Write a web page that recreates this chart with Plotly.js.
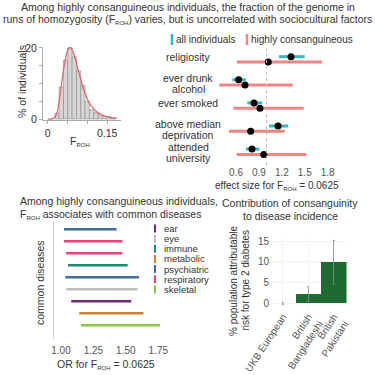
<!DOCTYPE html>
<html>
<head>
<meta charset="utf-8">
<script src="https://cdn.plot.ly/plotly-3.0.1.min.js"></script>
<style>html,body{margin:0;padding:0;background:#fff;}#chart{width:375px;height:375px;}</style>
</head>
<body>
<div id="chart"></div>
<script>
// ---------- DATA ----------
// histogram of F_ROH (bin centers, % of individuals)
const histF = [0.0234,0.0343,0.0452,0.0561,0.0670,0.0779,0.0888,0.0997,0.1106,0.1215,0.1324,0.1433,0.1542,0.1651];
const histPct = [1.6,9.0,16.6,20.0,17.5,13.5,9.5,5.0,2.6,1.8,1.2,0.8,0.7,0.3];
// fitted density curve
const curveF = [0.000,0.010,0.018,0.025,0.030,0.035,0.040,0.045,0.050,0.055,0.060,0.065,0.070,0.075,0.080,0.085,0.090,0.095,0.100,0.105,0.115,0.125,0.140,0.155,0.175];
const curvePct = [0.0,0.05,0.5,2.5,6.0,10.0,14.0,17.0,19.2,20.3,19.8,18.5,16.7,14.5,12.5,10.5,8.6,7.0,5.6,4.5,3.0,1.9,1.0,0.5,0.2];

// sociocultural factors forest plot
const traits = ['religiosity','ever drunk<br>alcohol','ever smoked','above median<br>deprivation','attended<br>university'];
const allEst = [1.32,0.635,0.836,1.15,0.809];
const allLo  = [1.163,0.552,0.748,1.032,0.731];
const allHi  = [1.499,0.727,0.944,1.285,0.905];
const hcEst  = [1.023,0.718,0.914,0.792,0.963];
const hcLo   = [0.61,0.381,0.565,0.508,0.609];
const hcHi   = [1.726,1.342,1.486,1.237,1.52];
const forestTicks = [0.6,0.9,1.2,1.5,1.8];

// common diseases
const diseaseGroup = ['psychiatric','respiratory','respiratory','immune','psychiatric','eye','ear','metabolic','skeletal'];
const diseaseLo = [1.023,1.023,1.039,1.054,1.033,1.041,1.079,1.141,1.154];
const diseaseHi = [1.429,1.474,1.473,1.514,1.601,1.591,1.542,1.635,1.763];
const groups = ['ear','eye','immune','metabolic','psychiatric','respiratory','skeletal'];
const diseaseTicks = [1.00,1.25,1.50,1.75];

// population attributable risk
const popCats = ['UKB European','British<br>Bangladeshi','British<br>Pakistani'];
const popPAR = [0.1,2.2,9.9];
const popHi = [0.3,4.0,15.2];
const popLo = [-0.2,0.4,4.6];

// ---------- STYLE ----------
const groupColor = {ear:'#6e2a6e',eye:'#bdbdbd',immune:'#1f8a72',metabolic:'#c98035',psychiatric:'#3d6fa6',respiratory:'#e6457c',skeletal:'#8fc641'};
const teal = '#35b6c4', coral = '#ef8585';
const FONT = 'Liberation Sans, Arial, sans-serif';
const txt = '#333', tick = '#555';
const W = 375;
const PX = p => p / W, PY = p => 1 - p / W;
const sub = '<sub><span style="font-size:6px">ROH</span></sub>';

const traces = [];
// histogram
traces.push({type:'bar', x:histF, y:histPct, width:0.0109, xaxis:'x', yaxis:'y',
  marker:{color:'#d6d6d6', line:{color:'#8a8a8a', width:0.6}}, showlegend:false, hoverinfo:'skip'});
traces.push({type:'scatter', mode:'lines', x:curveF, y:curvePct, xaxis:'x', yaxis:'y',
  line:{color:'#e0606c', width:1.2, shape:'spline'}, showlegend:false});

// forest plot
const rowIdx = traits.map((_, i) => i);
traces.push({type:'scatter', mode:'markers', x:hcEst, y:rowIdx.map(i => i + 0.23), xaxis:'x2', yaxis:'y2',
  marker:{color:'#000', size:7},
  error_x:{type:'data', symmetric:false, array:hcHi.map((h,i)=>h-hcEst[i]), arrayminus:hcLo.map((l,i)=>hcEst[i]-l), thickness:3, width:0, color:coral},
  showlegend:false});
traces.push({type:'scatter', mode:'markers', x:allEst, y:rowIdx, xaxis:'x2', yaxis:'y2',
  marker:{color:'#000', size:7},
  error_x:{type:'data', symmetric:false, array:allHi.map((h,i)=>h-allEst[i]), arrayminus:allLo.map((l,i)=>allEst[i]-l), thickness:3, width:0, color:teal},
  showlegend:false});

// disease lines
diseaseGroup.forEach((g, i) => {
  traces.push({type:'scatter', mode:'lines', x:[diseaseLo[i], diseaseHi[i]], y:[i, i], xaxis:'x3', yaxis:'y3',
    line:{color:groupColor[g], width:2.6}, showlegend:false});
});

// PAR bars
traces.push({type:'bar', x:popCats, y:popPAR, xaxis:'x4', yaxis:'y4',
  marker:{color:'#1d6b30'},
  error_y:{type:'data', symmetric:false, array:popHi.map((h,i)=>h-popPAR[i]), arrayminus:popPAR.map((v,i)=>v-popLo[i]), thickness:0.8, width:1, color:'#8a8a8a'},
  showlegend:false});

const annotations = [];
const shapes = [];
function ann(text, xp, yp, size, opts) {
  annotations.push(Object.assign({text, x:PX(xp), y:PY(yp), xref:'paper', yref:'paper', showarrow:false,
    xanchor:'center', yanchor:'middle', font:{family:FONT, size, color:txt}}, opts || {}));
}
// main title
ann('Among highly consanguineous individuals, the fraction of the genome in', 187.5, 7, 10.5);
ann('runs of homozygosity (F' + sub + ') varies, but is uncorrelated with sociocultural factors', 187.5, 19.5, 10.5);
// histogram titles
ann('% of individuals', 22, 82, 10.5, {textangle:-90});
ann('F' + sub, 80, 141, 10.5);
// forest legend
ann('all individuals', 174, 39.5, 10, {xanchor:'left'});
ann('highly consanguineous', 249, 39.5, 10, {xanchor:'left'});
shapes.push({type:'line', xref:'paper', yref:'paper', x0:PX(172), x1:PX(172), y0:PY(34), y1:PY(45), line:{color:teal, width:2.5}});
shapes.push({type:'line', xref:'paper', yref:'paper', x0:PX(247), x1:PX(247), y0:PY(34), y1:PY(45), line:{color:coral, width:2.5}});
// forest row labels (each line placed separately for tight spacing)
traits.forEach((t, i) => {
  const lines = t.split('<br>');
  const center = lines.length > 1 ? i + 0.15 : i + 0.01;
  lines.forEach((ln, k) => {
    const off = (k - (lines.length - 1) / 2) * 0.48;
    annotations.push({text:ln, x:PX(188), xref:'paper', y:center + off, yref:'y2', showarrow:false, xanchor:'center', yanchor:'middle',
      font:{family:FONT, size:10.5, color:txt}});
  });
});
// dotted reference line at 1
shapes.push({type:'line', xref:'x2', yref:'y2 domain', x0:1, x1:1, y0:0, y1:0.97, line:{color:'#bbb', width:1, dash:'dot'}});
ann('effect size for F' + sub + ' = 0.0625', 277, 186, 10);

// disease panel
ann('Among highly consanguineous individuals,', 18, 201, 10.5, {xanchor:'left'});
ann('F' + sub + ' associates with common diseases', 18, 214, 10.5, {xanchor:'left'});
ann('common diseases', 40, 283, 10.5, {textangle:-90});
ann('OR for F' + sub + ' = 0.0625', 106, 364, 10.5);
groups.forEach((g, i) => {
  const yp = 228.5 + i * 10.15;
  shapes.push({type:'line', xref:'paper', yref:'paper', x0:PX(155), x1:PX(155), y0:PY(yp - 4), y1:PY(yp + 4), line:{color:groupColor[g], width:2}});
  ann(g, 162, yp, 9.5, {xanchor:'left'});
});

// PAR panel
ann('Contribution of consanguinity', 290, 203, 10.5);
ann('to disease incidence', 290, 216, 10.5);
ann('% population attributable', 233, 280, 10, {textangle:-90});
ann('risk for type 2 diabetes', 244.5, 280, 10, {textangle:-90});

const layout = {
  width:375, height:375, margin:{l:0,r:0,t:0,b:0}, paper_bgcolor:'#fff', plot_bgcolor:'rgba(0,0,0,0)',
  font:{family:FONT, color:tick, size:10}, showlegend:false, bargap:0,
  xaxis:{domain:[PX(43),PX(121)], range:[-0.012,0.185], anchor:'y', showgrid:false, zeroline:false,
    showline:true, linecolor:'#aaa', linewidth:1, ticks:'outside', ticklen:3, tickcolor:'#aaa',
    tickvals:[0,0.05,0.1,0.15], ticktext:['0','','','0.15'], tickfont:{size:10.5, color:txt}},
  yaxis:{domain:[PY(120),PY(47)], range:[-0.28,20.28], anchor:'x', showgrid:false, zeroline:false,
    showline:true, linecolor:'#aaa', linewidth:1, ticks:'outside', ticklen:3, tickcolor:'#aaa',
    tickvals:[0,5,10,15,20], ticktext:['0','','','','20'], tickfont:{size:10.5, color:txt}},
  xaxis2:{domain:[PX(215),PX(335)], range:[0.325,1.896], anchor:'y2', showgrid:false, zeroline:false, showline:false,
    tickvals:forestTicks, ticktext:forestTicks.map(v=>v.toFixed(1)), tickfont:{size:10, color:tick}},
  yaxis2:{domain:[PY(165),PY(45)], range:[4.688,-0.506], anchor:'x2', showgrid:false, zeroline:false, showline:false, showticklabels:false},
  xaxis3:{domain:[PX(54),PX(175)], range:[0.946,1.879], anchor:'y3', showgrid:false, zeroline:false, showline:false,
    tickvals:diseaseTicks, ticktext:diseaseTicks.map(v=>v.toFixed(2)), tickfont:{size:10, color:tick}, ticklabelstandoff:4},
  yaxis3:{domain:[PY(339),PY(222)], range:[9.14,-0.608], anchor:'x3', showgrid:false, zeroline:false,
    showline:true, linecolor:'#ccc', linewidth:1, showticklabels:false, ticks:''},
  xaxis4:{domain:[PX(270),PX(346.5)], anchor:'y4', showgrid:true, gridcolor:'#f3f3f3', zeroline:false, showline:false,
    tickangle:-57, tickfont:{size:10, color:tick}},
  yaxis4:{domain:[PY(308),PY(237)], range:[-1.1,16], anchor:'x4', showgrid:true, gridcolor:'#f3f3f3', zeroline:false, showline:false,
    tickvals:[0,5,10,15], tickfont:{size:10, color:tick}},
  annotations, shapes
};

Plotly.newPlot('chart', traces, layout, {staticPlot:true, displayModeBar:false});
</script>
</body>
</html>
